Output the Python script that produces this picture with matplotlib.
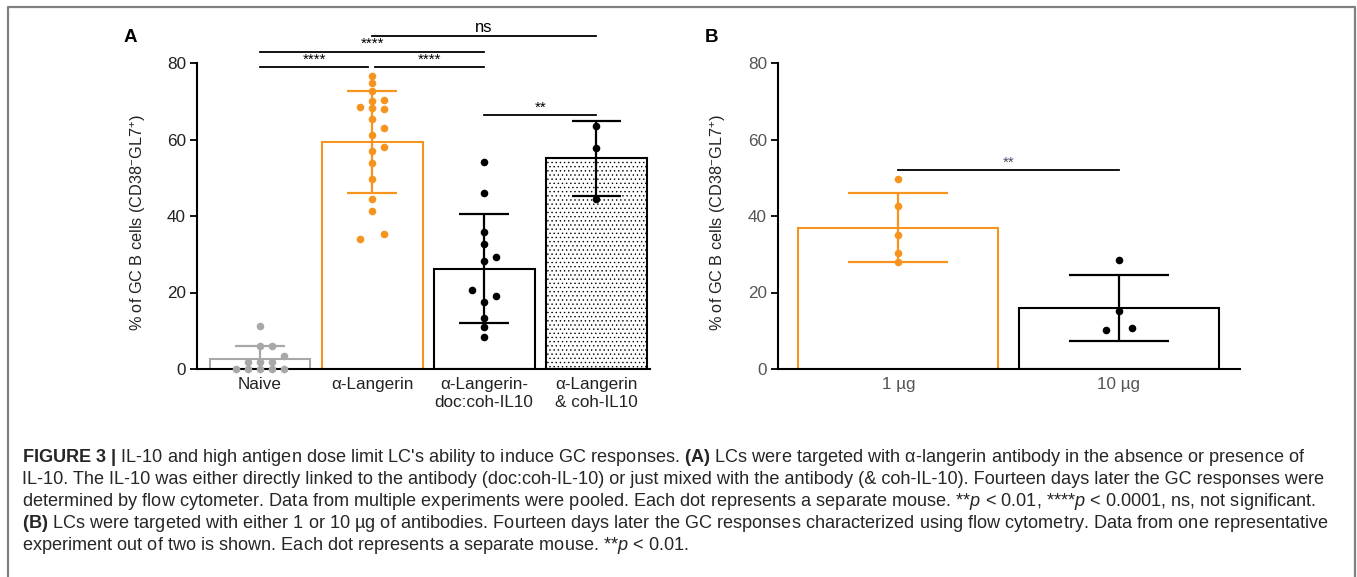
import numpy as np
import matplotlib
matplotlib.use('Agg')
import matplotlib.pyplot as plt
from matplotlib.lines import Line2D

plt.rcParams['font.family'] = ['Liberation Sans', 'DejaVu Sans']
plt.rcParams['mathtext.fontset'] = 'custom'
plt.rcParams['mathtext.rm'] = 'Liberation Sans'
plt.rcParams['mathtext.it'] = 'Liberation Sans:italic'
plt.rcParams['mathtext.bf'] = 'Liberation Sans:bold'
plt.rcParams['hatch.linewidth'] = 0.5

ORANGE = '#F7941D'
GREY = '#A8A8A8'

# ---- panel A data ----
a_labels = ['Naive', 'α-Langerin', 'α-Langerin-\ndoc:coh-IL10', 'α-Langerin\n& coh-IL10']
a_means = [2.5, 59.4, 26.2, 55.1]
a_sd = [3.5, 13.3, 14.2, 9.8]

naive_pts = [11.2, 6.0, 6.0, 3.4, 1.8, 1.8, 1.8, 0, 0, 0, 0, 0]
naive_slot = [0, 0, 1, 2, -1, 0, 1, -2, -1, 0, 1, 2]

lang_pts = [76.6, 74.9, 72.7, 70.0, 70.3, 68.5, 68.3, 68.0, 65.4, 62.9,
            61.3, 58.1, 57.1, 53.9, 49.8, 44.4, 41.3, 35.4, 34.0]
lang_slot = [0, 0, 0, 0, 1, -1, 0, 1, 0, 1, 0, 1, 0, 0, 0, 0, 0, 1, -1]

doc_pts = [54.0, 46.1, 35.7, 32.7, 29.3, 28.2, 20.7, 19.1, 17.4, 13.4, 11.0, 8.4]
doc_slot = [0, 0, 0, 0, 1, 0, -1, 1, 0, 0, 0, 0]

mix_pts = [63.4, 57.8, 44.5]
mix_slot = [0, 0, 0]

# ---- panel B data ----
b_labels = ['1 µg', '10 µg']
b_means = [36.9, 15.9]
b_sd = [9.0, 8.6]
b1_pts = [49.7, 42.5, 35.0, 30.3, 27.9]
b1_slot = [0, 0, 0, 0, 0]
b10_pts = [28.5, 15.1, 10.7, 10.1]
b10_slot = [0, 0, 1, -1]

ylab = r'% of GC B cells (CD38$^{-}$GL7$^{+}$)'

fig = plt.figure(figsize=(13.57, 5.77), dpi=100)

bottom = (577 - 369) / 577
height = (369 - 63) / 577
axA = fig.add_axes([197 / 1357, bottom, (650 - 197) / 1357, height])
axB = fig.add_axes([778 / 1357, bottom, (1240 - 778) / 1357, height])


def style_axis(ax, tickcolor):
    for s in ['top', 'right']:
        ax.spines[s].set_visible(False)
    for s in ['left', 'bottom']:
        ax.spines[s].set_linewidth(1.5)
    ax.set_ylim(0, 80)
    ax.set_yticks([0, 20, 40, 60, 80])
    ax.tick_params(axis='y', direction='out', length=5, width=1.3,
                   labelsize=12.3, labelcolor=tickcolor, pad=3)
    ax.tick_params(axis='x', length=0, labelsize=12.3, labelcolor=tickcolor, pad=6)
    ax.set_ylabel(ylab, fontsize=11.7, color='#222222')
    ax.yaxis.set_label_coords(-0.108, 0.48)


def errbar(ax, x, m, s, color, half=0.22):
    ax.vlines(x, m - s, m + s, color=color, lw=1.6, zorder=2)
    ax.hlines([m - s, m + s], x - half, x + half, color=color, lw=1.6, zorder=2)


def dots(ax, x, pts, slots, color, step):
    xs = x + np.array(slots) * step
    ax.scatter(xs, pts, s=30, color=color, zorder=3, linewidths=0, clip_on=False)


# ---- panel A ----
xa = np.arange(4)
a_edge = [GREY, ORANGE, 'black', 'black']
a_hatch = [None, None, None, '....']
for i in range(4):
    axA.bar(xa[i], a_means[i], width=0.9, facecolor='white', edgecolor=a_edge[i],
            linewidth=1.5, hatch=a_hatch[i], zorder=1)
    errbar(axA, xa[i], a_means[i], a_sd[i], a_edge[i])
step_a = 0.109
dots(axA, 0, naive_pts, naive_slot, GREY, step_a)
dots(axA, 1, lang_pts, lang_slot, ORANGE, step_a)
dots(axA, 2, doc_pts, doc_slot, 'black', step_a)
dots(axA, 3, mix_pts, mix_slot, 'black', step_a)
axA.set_xlim(-0.5625, 3.48)
axA.set_xticks(xa)
axA.set_xticklabels(a_labels, linespacing=1.25)
style_axis(axA, '#222222')

# significance brackets
sig_a = [(0, 0.965, 79.0, '****'), (1.03, 2.0, 79.0, '****'),
         (0, 2.0, 83.0, '****'), (2.0, 3.0, 66.4, '**')]
for x0, x1, y, t in sig_a:
    axA.plot([x0, x1], [y, y], color='black', lw=1.3, clip_on=False)
    axA.text((x0 + x1) / 2, y + 0.1, t, ha='center', va='bottom', fontsize=11)
axA.plot([1, 3], [87.1, 87.1], color='black', lw=1.3, clip_on=False)
axA.text(2, 87.3, 'ns', ha='center', va='bottom', fontsize=12)

# ---- panel B ----
xb = np.arange(2)
b_edge = [ORANGE, 'black']
for i in range(2):
    axB.bar(xb[i], b_means[i], width=0.907, facecolor='white', edgecolor=b_edge[i],
            linewidth=1.5, zorder=1)
    errbar(axB, xb[i], b_means[i], b_sd[i], b_edge[i], half=0.227)
dots(axB, 0, b1_pts, b1_slot, ORANGE, 0.057)
dots(axB, 1, b10_pts, b10_slot, 'black', 0.057)
axB.set_xlim(-0.546, 1.549)
axB.set_xticks(xb)
axB.set_xticklabels(b_labels)
style_axis(axB, '#555555')
axB.plot([0, 1], [52.1, 52.1], color='black', lw=1.3)
axB.text(0.5, 52.2, '**', ha='center', va='bottom', fontsize=11, color='#4a4a6a')

# panel letters
fig.text(130 / 1357, 1 - 38 / 577, 'A', fontsize=13.5, fontweight='bold', ha='center', va='center')
fig.text(712 / 1357, 1 - 38 / 577, 'B', fontsize=13.5, fontweight='bold', ha='center', va='center')

# caption
caption = [
    r"$\mathbf{FIGURE\ 3\ |}$ IL-10 and high antigen dose limit LC's ability to induce GC responses. "
    r"$\mathbf{(A)}$ LCs were targeted with α-langerin antibody in the absence or presence of",
    "IL-10. The IL-10 was either directly linked to the antibody (doc:coh-IL-10) or just mixed with "
    "the antibody (& coh-IL-10). Fourteen days later the GC responses were",
    r"determined by flow cytometer. Data from multiple experiments were pooled. Each dot represents "
    r"a separate mouse. **$\mathit{p}$ < 0.01, ****$\mathit{p}$ < 0.0001, ns, not significant.",
    r"$\mathbf{(B)}$ LCs were targeted with either 1 or 10 µg of antibodies. Fourteen days later "
    r"the GC responses characterized using flow cytometry. Data from one representative",
    r"experiment out of two is shown. Each dot represents a separate mouse. **$\mathit{p}$ < 0.01.",
]
line_y = [457, 479, 501, 523, 546]
for txt, yy in zip(caption, line_y):
    fig.text(22 / 1357, 1 - yy / 577, txt, fontsize=13.1, color='#262626', ha='left', va='center')

# frame
fx0, fx1 = 8 / 1357, 1355 / 1357
fy = 1 - 6.5 / 577
fig.add_artist(Line2D([fx0, fx0, fx1, fx1], [0, fy, fy, 0], transform=fig.transFigure,
                      color='#808080', lw=1.6))

fig.savefig('out.png', dpi=100)
